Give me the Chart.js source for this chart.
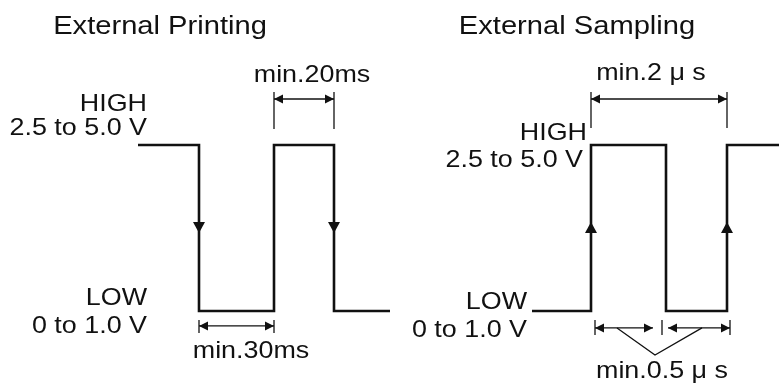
<!DOCTYPE html>
<html>
<head>
<meta charset="utf-8">
<script src="https://cdn.jsdelivr.net/npm/chart.js@4/dist/chart.umd.min.js"></script>
<style>
  body { margin: 0; background: #fff; }
  canvas { display: block; }
</style>
</head>
<body>
<canvas id="timing" width="779" height="385"></canvas>
<script>
// signal levels: 1 = HIGH, 0 = LOW, time in arbitrary units
const printTime = [138, 199, 199, 274, 274, 334, 334, 390];
const printLevel = [1, 1, 0, 0, 1, 1, 0, 0];
const sampleTime = [532, 591, 591, 666, 666, 727, 727, 779];
const sampleLevel = [0, 0, 1, 1, 0, 0, 1, 1];

const titles = ["External Printing", "External Sampling"];
const highLabel = ["HIGH", "2.5 to 5.0 V"];
const lowLabel = ["LOW", "0 to 1.0 V"];
const spanLabels = ["min.20ms", "min.30ms", "min.2 μ s", "min.0.5 μ s"];

const toPoints = (t, v) => t.map((x, i) => ({ x: x, y: v[i] }));

const FONT = "'Liberation Sans', Arial, sans-serif";
const STRETCH = 1.12;

function txt(ctx, s, x, y, align, size) {
  ctx.save();
  ctx.font = size + "px " + FONT;
  ctx.textAlign = align;
  ctx.textBaseline = "alphabetic";
  ctx.fillStyle = "#111";
  ctx.translate(x, y);
  ctx.scale(STRETCH, 1);
  ctx.fillText(s, 0, 0);
  ctx.restore();
}

function head(ctx, x, y, dx, dy, len, w) {
  // filled triangle with tip at (x,y) pointing along (dx,dy)
  ctx.beginPath();
  ctx.moveTo(x, y);
  ctx.lineTo(x - dx * len - dy * w, y - dy * len - dx * w);
  ctx.lineTo(x - dx * len + dy * w, y - dy * len + dx * w);
  ctx.closePath();
  ctx.fill();
}

const notes = {
  id: "notes",
  afterDatasetsDraw(chart) {
    const ctx = chart.ctx;
    const X = v => chart.scales.x.getPixelForValue(v);
    const Y = v => chart.scales.y.getPixelForValue(v);
    ctx.save();
    ctx.strokeStyle = "#111";
    ctx.fillStyle = "#111";

    // edge arrows
    [printTime[1], printTime[5]].forEach(t => head(ctx, X(t), Y(0.47), 0, 1, 11, 6));
    [sampleTime[1], sampleTime[5]].forEach(t => head(ctx, X(t), Y(0.536), 0, -1, 11, 6));

    // dimension lines
    ctx.lineWidth = 1.3;
    function tick(t, y1, y2) {
      ctx.beginPath();
      ctx.moveTo(X(t), Y(y1));
      ctx.lineTo(X(t), Y(y2));
      ctx.stroke();
    }
    function dim(t1, t2, y) {
      ctx.beginPath();
      ctx.moveTo(X(t1), Y(y));
      ctx.lineTo(X(t2), Y(y));
      ctx.stroke();
      head(ctx, X(t1), Y(y), -1, 0, 9, 4.5);
      head(ctx, X(t2), Y(y), 1, 0, 9, 4.5);
    }
    // min.20ms
    tick(printTime[3], 1.096, 1.319);
    tick(printTime[5], 1.096, 1.319);
    dim(printTime[3], printTime[5], 1.277);
    // min.30ms
    tick(printTime[1], -0.054, -0.133);
    tick(printTime[3], -0.054, -0.133);
    dim(printTime[1], printTime[3], -0.09);
    // min.2 us
    tick(sampleTime[1], 1.102, 1.319);
    tick(sampleTime[5], 1.102, 1.319);
    dim(sampleTime[1], sampleTime[5], 1.277);
    // min.0.5 us
    tick(595, -0.054, -0.145);
    tick(662, -0.054, -0.145);
    tick(730, -0.054, -0.145);
    dim(595, 653, -0.102);
    dim(668, 730, -0.102);
    ctx.beginPath();
    ctx.moveTo(X(617), Y(-0.102));
    ctx.lineTo(X(655), Y(-0.265));
    ctx.lineTo(X(702), Y(-0.102));
    ctx.stroke();

    // texts
    txt(ctx, titles[0], X(160), Y(1.669), "center", 26);
    txt(ctx, titles[1], X(577), Y(1.669), "center", 26);
    txt(ctx, spanLabels[0], X(312), Y(1.38), "center", 24);
    txt(ctx, spanLabels[1], X(251), Y(-0.283), "center", 24);
    txt(ctx, spanLabels[2], X(651), Y(1.392), "center", 24);
    txt(ctx, spanLabels[3], X(662), Y(-0.404), "center", 24);

    txt(ctx, highLabel[0], X(147), Y(1.205), "right", 24);
    txt(ctx, highLabel[1], X(147), Y(1.06), "right", 24);
    txt(ctx, lowLabel[0], X(147), Y(0.036), "right", 24);
    txt(ctx, lowLabel[1], X(147), Y(-0.133), "right", 24);

    txt(ctx, highLabel[0], X(587), Y(1.03), "right", 24);
    txt(ctx, highLabel[1], X(583), Y(0.867), "right", 24);
    txt(ctx, lowLabel[0], X(527), Y(0.012), "right", 24);
    txt(ctx, lowLabel[1], X(527), Y(-0.157), "right", 24);
    ctx.restore();
  }
};

new Chart(document.getElementById("timing"), {
  type: "line",
  data: {
    datasets: [
      { label: "External Printing", data: toPoints(printTime, printLevel) },
      { label: "External Sampling", data: toPoints(sampleTime, sampleLevel) }
    ]
  },
  options: {
    responsive: false,
    animation: false,
    clip: false,
    layout: { padding: 0 },
    elements: {
      line: { borderColor: "#111", borderWidth: 2.6, tension: 0, borderJoinStyle: "miter", borderCapStyle: "butt" },
      point: { radius: 0 }
    },
    scales: {
      x: { type: "linear", min: 0, max: 779, display: false },
      y: { type: "linear", min: -0.4458, max: 1.8735, display: false }
    },
    plugins: { legend: { display: false }, tooltip: { enabled: false } }
  },
  plugins: [notes]
});
</script>
</body>
</html>
